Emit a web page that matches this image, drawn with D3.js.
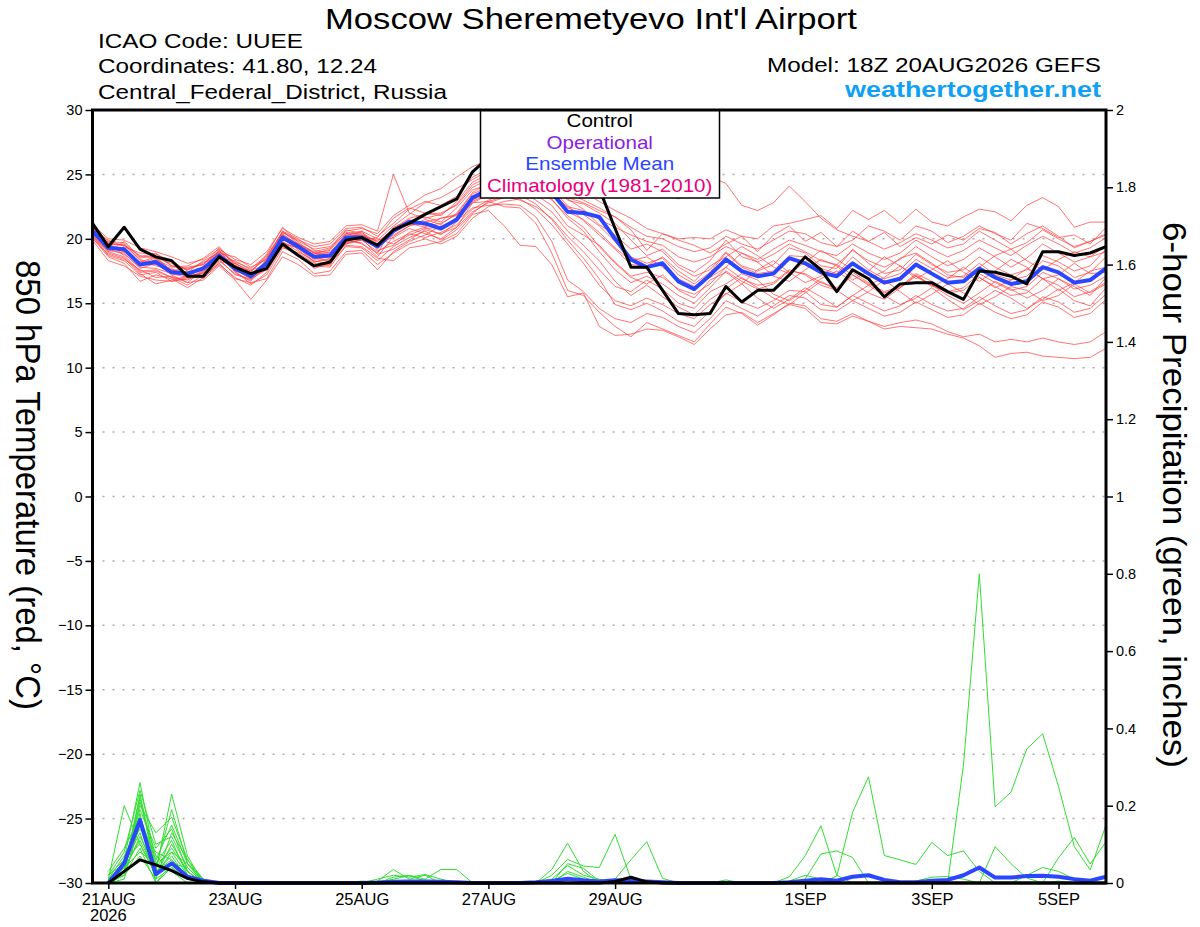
<!DOCTYPE html>
<html>
<head>
<meta charset="utf-8">
<script src="https://cdnjs.cloudflare.com/ajax/libs/d3/7.8.5/d3.min.js"></script>
<style>
body { margin: 0; background: #fff; }
text { font-family: "Liberation Sans", Arial, Helvetica, sans-serif; }
</style>
</head>
<body>
<div class="container"></div>
<script>
const WIDTH = 1200;
const HEIGHT = 927;
const PLOT = {left: 92.5, right: 1106, top: 110, bottom: 883};

// model run 18Z 20AUG2026, 6-hourly out to 384 h (65 steps)
const RUN_START = Date.UTC(2026, 7, 20, 18);
const STEP_MS = 6 * 3600 * 1000;

const xTickDates = ["2026-08-21", "2026-08-23", "2026-08-25", "2026-08-27", "2026-08-29", "2026-09-01", "2026-09-03", "2026-09-05"];
const xTickLabels = ["21AUG", "23AUG", "25AUG", "27AUG", "29AUG", "1SEP", "3SEP", "5SEP"];
const tempTicks = [-30, -25, -20, -15, -10, -5, 0, 5, 10, 15, 20, 25, 30];
const precipTicks = [0, 0.2, 0.4, 0.6, 0.8, 1, 1.2, 1.4, 1.6, 1.8, 2];
const precipTickLabels = ["0", "0.2", "0.4", "0.6", "0.8", "1", "1.2", "1.4", "1.6", "1.8", "2"];

const legendLabels = ["Control", "Operational", "Ensemble Mean", "Climatology (1981-2010)"];
const legendColors = ["#000000", "#8c1ee0", "#2a46ff", "#e8007c"];

// 850 hPa temperature (C), one value per 6 h step from 18Z 20AUG
const controlTemp = [21.2,19.4,20.9,19.2,18.6,18.3,17.1,17.1,18.6,17.8, 17.3,17.7,19.6,18.7,17.9,18.2,19.9,20.1,19.5,20.7, 21.2,21.9,22.5,23.1,25.2,26.3,27.0,27.5,27.6,27.2, 26.5,25.6,23.9,20.8,17.8,17.8,16.0,14.2,14.1,14.2, 16.3,15.1,16.0,16.0,17.2,18.6,17.6,15.9,17.6,16.9, 15.5,16.5,16.6,16.6,15.9,15.3,17.5,17.4,17.1,16.5, 19.0,19.0,18.7,18.9,19.4];
const meanTemp = [20.6,19.3,19.2,18.0,18.2,17.4,17.3,17.7,18.7,17.7, 17.1,18.1,20.1,19.4,18.6,18.7,20.1,20.1,19.4,20.6, 21.3,21.2,20.8,21.5,23.2,23.8,24.2,24.4,24.0,23.6, 22.1,22.0,21.7,20.0,18.4,17.8,18.1,16.7,16.1,17.2, 18.4,17.5,17.1,17.3,18.5,18.1,17.4,17.1,18.1,17.3, 16.6,16.9,18.0,17.3,16.6,16.7,17.7,17.0,16.5,16.7, 17.8,17.4,16.6,16.8,17.7];
const memberTemp = [
  [20.9,19.6,19.5,18.4,18.0,17.7,17.0,17.9,19.0,17.9,17.5,18.6,20.5,19.8,19.2,19.4,20.6,20.8,20.4, 21.8,22.6,23.4,23.9,24.8,25.6,26.1,26.8,27.2,27.0,26.4,25.8,25.1,24.6,24.0,23.6,23.2,23.5,23.1,23.6, 24.8,24.3,22.6,22.2,22.8,24.1,22.9,21.6,20.7,20.2,19.8,20.5,19.4,20.1,19.6,20.3,19.9,20.8,20.5,19.6,20.4,21.0,20.2,19.3,19.8,20.4],
  [20.3,19.0,19.8,18.6,18.9,17.9,17.6,18.2,18.5,18.3,17.6,17.9,20.6,20.0,19.1,18.9,20.4,20.2,19.9, 21.0,21.9,22.8,23.2,23.9,24.6,25.3,25.9,26.2,25.7,25.0,24.3,23.7,22.9,22.2,21.6,20.8,20.4,20.0,20.1, 20.0,20.7,20.2,20.0,21.0,21.2,21.5,21.8,20.8,22.2,21.5,22.2,21.2,22.3,21.3,21.0,21.7,22.3,22.1,21.4,22.6,23.2,22.5,20.9,21.3,21.3],
  [20.5,19.7,18.7,17.5,17.6,17.0,16.8,17.4,18.9,17.4,16.7,18.5,20.3,19.1,18.2,18.4,19.8,19.7,18.6, 20.2,21.0,21.5,21.1,22.0,23.6,24.3,24.9,25.2,24.8,24.1,23.2,22.8,22.2,21.7,20.7,19.1,20.4,19.9,19.5, 18.9,19.6,20.2,19.0,20.3,21.0,19.8,20.5,19.4,19.9,21.0,20.6,19.9,21.0,20.6,19.7,20.2,21.0,20.4,19.9,21.2,20.8,20.1,20.3,19.6,20.9],
  [21.0,19.4,19.0,18.2,18.6,17.5,17.8,18.0,19.3,17.9,17.3,18.0,19.6,19.3,18.8,19.2,20.7,20.4,19.6, 20.8,21.6,21.9,22.0,22.6,24.0,24.6,25.0,25.3,24.6,23.5,22.5,22.2,21.5,20.9,20.3,19.8,19.5,18.6,18.2, 18.6,19.4,18.9,18.4,19.2,19.9,19.5,19.0,18.7,19.6,18.9,18.4,18.9,19.9,19.2,18.6,19.1,19.9,19.3,18.7,19.5,20.2,19.6,18.9,19.3,20.1],
  [20.2,18.9,18.5,17.3,16.5,16.8,17.1,17.3,18.4,17.2,16.9,17.6,19.9,19.6,18.5,18.3,19.9,20.6,19.1, 19.5,20.5,20.9,21.6,21.9,23.0,23.6,24.1,24.5,24.2,23.8,22.6,21.4,20.3,19.2,18.0,17.9,18.6,17.5,16.7, 17.9,18.6,19.4,18.7,17.8,17.3,18.2,19.1,18.4,17.6,16.9,17.5,18.5,18.9,18.1,17.2,17.0,17.8,18.7,19.2,18.3,17.6,18.4,19.0,18.6,19.5],
  [20.7,19.9,19.4,18.9,18.8,18.3,17.5,16.9,18.2,18.1,17.4,18.8,20.9,19.7,18.9,18.6,19.6,19.9,20.1, 21.6,22.4,22.0,21.8,22.9,24.4,25.0,25.4,25.6,25.1,24.5,23.0,22.7,22.0,21.2,19.9,18.7,19.2,18.0,17.4, 18.3,19.9,18.6,18.2,18.8,19.6,19.0,18.3,18.0,19.1,18.3,17.8,18.4,19.4,18.6,17.9,18.4,19.3,18.6,17.8,18.5,19.6,18.9,18.2,18.6,19.0],
  [20.4,19.1,18.9,17.7,18.1,17.2,16.6,17.6,19.1,17.5,16.5,17.2,19.3,18.9,18.1,17.9,20.3,20.5,19.7, 20.1,20.8,20.4,20.0,20.9,22.8,23.4,24.0,24.3,23.9,23.0,21.8,20.9,19.4,18.1,17.0,16.5,17.2,16.0,15.4, 16.8,17.4,16.5,17.6,18.3,17.4,16.6,17.1,18.0,17.2,16.4,17.0,17.9,17.1,16.3,16.9,17.8,17.0,16.2,16.8,17.7,16.9,16.0,16.6,17.5,17.8],
  [20.8,19.5,19.6,18.3,17.9,17.6,17.4,18.3,18.9,18.6,17.8,18.4,20.2,19.5,18.7,19.0,20.0,19.6,18.9, 20.9,21.4,21.7,21.3,22.4,23.8,24.2,24.7,24.9,24.4,23.7,22.4,21.9,21.0,19.8,18.6,18.1,18.5,17.2,16.5, 17.4,18.9,17.8,17.3,17.5,18.7,18.6,17.7,17.3,18.6,17.6,16.9,17.3,18.4,17.7,17.0,17.1,18.1,17.2,16.8,17.1,18.3,17.9,17.0,17.4,18.6],
  [20.1,18.6,18.1,16.7,17.2,16.9,16.2,17.0,18.0,17.0,16.4,17.4,19.5,18.8,17.7,18.1,19.4,19.3,18.3, 19.4,20.1,20.6,19.9,20.7,22.0,22.9,23.3,23.0,22.5,21.6,20.2,19.0,17.6,16.3,15.9,16.8,16.1,15.0,14.6, 15.9,16.5,17.3,16.8,15.7,15.2,16.0,16.9,17.5,16.6,15.8,15.3,16.2,17.1,16.4,15.6,15.0,15.8,16.7,16.1,15.4,16.0,16.9,16.3,15.6,17.0],
  [20.6,19.2,19.3,17.9,18.4,17.8,17.9,18.5,19.4,18.0,17.2,18.3,20.4,19.5,18.9,18.8,20.2,20.3,19.5, 20.5,21.2,20.9,20.3,21.3,22.9,23.5,23.8,24.0,23.4,22.6,21.0,20.3,19.5,18.2,17.1,17.4,17.0,16.1,15.7, 16.5,17.8,16.9,16.4,16.6,17.6,17.2,16.4,16.0,17.2,16.5,15.8,16.2,17.2,16.4,15.8,16.0,17.0,16.3,15.6,15.8,16.9,16.4,15.5,15.9,16.6],
  [21.1,20.0,19.9,19.3,19.0,18.6,18.1,18.4,19.2,18.4,18.0,19.0,20.8,20.1,19.6,19.8,21.0,21.1,20.6, 25.0,22.0,21.6,21.9,22.7,24.2,24.8,25.2,25.5,25.0,24.2,23.1,22.3,21.1,20.3,19.2,19.6,19.0,17.8,17.1, 17.6,19.0,17.9,17.5,18.0,19.3,18.9,17.9,17.7,19.2,18.1,17.3,17.6,18.8,18.0,17.4,17.6,18.6,17.8,17.2,17.6,18.7,18.2,17.5,17.9,19.2],
  [19.9,18.3,17.9,17.1,16.8,16.7,16.9,17.1,18.1,16.9,16.6,16.9,19.0,18.4,17.3,17.5,19.0,19.1,18.0, 18.9,19.6,20.0,19.6,20.2,21.6,22.5,22.9,23.1,22.3,21.1,19.6,18.1,16.4,15.2,14.8,15.4,14.9,14.2,13.8, 14.9,15.7,16.5,15.4,14.6,15.3,16.2,15.5,14.7,15.6,16.4,15.6,14.9,15.4,16.2,15.3,14.5,15.2,16.0,15.4,14.6,15.3,16.1,15.2,14.8,16.2],
  [20.5,19.3,19.0,18.1,18.3,17.3,17.2,17.8,18.6,17.6,16.9,18.2,20.0,19.2,18.4,18.6,20.1,20.0,19.3, 20.3,21.0,21.3,21.6,21.8,23.3,23.9,24.3,24.6,24.1,23.4,22.1,21.5,20.5,19.3,18.3,18.6,17.8,16.9,16.3, 17.0,17.8,18.9,18.2,17.1,16.7,17.6,18.4,17.9,16.8,17.5,18.6,17.9,16.9,17.6,18.3,17.4,16.7,17.5,18.4,17.8,16.9,17.2,18.1,17.3,17.4],
  [20.0,18.8,18.4,17.6,17.0,17.1,16.6,16.8,17.9,16.8,15.3,16.8,18.6,18.0,17.1,17.2,18.8,18.9,17.6, 19.0,19.8,20.3,21.0,21.4,22.4,22.6,22.7,22.6,21.7,19.8,16.8,15.9,14.6,13.8,13.5,14.2,13.9,13.2,12.7, 13.8,15.2,14.6,14.0,14.8,15.6,15.4,14.5,14.4,15.2,14.6,14.0,14.3,15.1,14.5,13.9,14.1,15.0,14.3,13.8,14.1,15.1,14.7,13.9,14.2,15.3],
  [20.8,19.7,19.5,18.7,18.5,18.1,17.6,18.1,19.0,18.2,17.7,18.7,20.5,19.9,19.4,19.6,20.8,20.9,20.2, 21.2,22.3,22.9,22.6,23.3,24.8,25.4,25.9,26.0,25.5,24.8,23.6,23.0,22.4,21.7,20.9,20.2,20.0,19.4,19.0, 19.3,20.2,19.6,19.2,19.9,20.6,20.4,19.7,19.4,20.6,19.8,19.2,19.7,20.4,19.9,19.3,19.6,20.6,19.9,19.2,19.7,20.7,20.0,19.4,19.8,20.3],
  [20.4,19.2,18.8,17.8,17.7,17.3,17.0,17.5,18.7,17.8,17.0,18.0,19.8,19.0,18.3,18.0,19.7,19.9,19.0, 19.8,20.4,20.1,20.5,21.1,22.3,23.0,23.5,23.6,23.0,22.1,20.6,19.5,18.3,16.7,15.6,16.4,15.5,14.7,14.1, 15.3,16.1,17.0,16.2,15.4,14.9,15.8,16.7,16.0,15.2,15.9,16.8,15.9,15.0,15.7,16.5,15.8,14.9,15.5,16.3,16.0,15.2,15.6,16.5,15.8,16.5],
  [20.6,19.5,19.1,18.1,18.5,17.5,17.3,17.7,18.6,17.5,17.2,18.3,20.3,19.6,18.9,19.1,20.5,20.3,19.8, 20.7,21.5,21.0,21.2,21.9,23.5,24.0,24.5,24.7,24.0,23.1,21.6,20.6,19.0,17.6,16.6,17.1,16.5,15.6,15.0, 16.2,17.5,16.7,16.1,16.5,17.5,17.3,16.6,16.2,17.4,16.6,15.9,16.3,17.3,16.7,15.9,16.2,17.3,16.6,16.0,16.3,17.4,16.9,16.1,16.4,17.1],
  [20.3,19.0,18.6,17.4,17.5,17.0,16.4,17.2,18.3,17.3,16.8,17.8,19.7,19.3,18.2,18.5,19.6,20.0,18.8, 19.2,19.9,20.7,20.4,20.9,22.1,22.8,23.2,23.4,22.7,21.5,19.9,18.5,16.9,14.9,14.5,15.0,14.4,13.6,13.2, 14.4,15.8,15.1,14.6,15.2,16.0,15.9,14.9,14.7,15.6,15.0,14.4,14.8,15.6,14.9,14.4,14.6,15.5,14.8,14.2,14.5,15.5,15.1,14.3,14.6,15.7],
  [20.9,19.8,19.7,18.5,18.7,17.9,17.7,18.0,19.1,18.1,17.5,18.5,20.6,19.6,19.0,19.3,20.4,20.6,20.0, 19.6,20.3,20.8,20.9,21.6,22.8,22.9,22.5,22.4,21.2,18.9,16.0,15.6,14.3,13.2,12.4,13.5,13.0,12.5,12.0, 13.4,14.7,14.2,13.3,14.1,15.0,14.8,13.8,13.6,14.2,13.6,13.2,13.5,13.7,13.4,12.8,12.4,12.6,12.0,12.2,12.0,12.3,12.0,11.8,12.0,12.8],
  [20.2,18.7,18.3,17.2,17.4,16.7,17.0,17.4,18.5,17.6,17.0,17.7,19.4,18.7,17.9,17.8,19.5,19.4,18.5, 18.3,19.3,19.5,19.8,20.4,21.9,22.2,21.0,19.5,19.4,18.0,15.5,15.8,13.2,12.5,12.6,13.0,12.9,12.4,11.8, 13.0,14.1,14.3,13.5,14.2,14.9,14.6,13.5,13.4,14.0,13.6,13.0,13.2,13.1,13.0,12.6,12.3,11.7,10.8,11.1,11.2,10.9,10.8,10.7,10.8,11.5]
];

// 6-hour precipitation (inches), one value per step from 00Z 21AUG
const controlPrecip = [0,0.03,0.06,0.047,0.032,0.012,0.003,0, 0,0,0,0,0,0,0,0, 0,0,0,0,0,0,0,0, 0,0,0,0,0,0,0,0, 0.004,0.015,0.003,0,0,0,0,0, 0,0,0,0,0,0,0,0, 0,0,0,0,0,0,0,0, 0,0,0,0,0,0,0,0];
const meanPrecip = [0,0.051,0.163,0.023,0.051,0.016,0.006,0, 0,0,0,0,0,0,0,0, 0,0.001,0.003,0.004,0.004,0.003,0.002,0, 0,0,0,0.002,0.005,0.011,0.007,0.004, 0.007,0.006,0.004,0.002,0,0,0,0, 0,0,0,0.002,0.006,0.01,0.006,0.016, 0.02,0.008,0.002,0.002,0.006,0.008,0.02,0.04, 0.014,0.014,0.018,0.019,0.016,0.01,0.006,0.016];
const memberPrecip = [
  [0.01,0.20,0.10,0.02,0.05,0.01,0,0, 0,0,0,0,0,0,0,0, 0,0,0,0,0,0,0,0, 0,0,0,0,0,0,0,0, 0,0,0,0,0,0,0,0, 0,0,0,0,0,0,0,0, 0,0,0,0,0,0,0.305,0.8, 0.197,0.235,0.347,0.386,0.25,0.094,0.034,0.15],
  [0,0.06,0.26,0.05,0.08,0.02,0,0, 0,0,0,0,0,0,0,0, 0,0,0,0,0,0,0,0, 0,0,0,0,0.035,0.103,0.03,0, 0,0,0,0,0,0,0,0, 0,0,0,0,0,0,0,0, 0,0,0,0,0,0,0,0, 0,0,0,0,0,0,0,0],
  [0.02,0.08,0.24,0.10,0.12,0.04,0,0, 0,0,0,0,0,0,0,0, 0,0.005,0.035,0.01,0.02,0,0,0, 0,0,0,0,0,0,0,0, 0,0,0,0,0,0,0,0, 0,0,0,0,0,0,0,0, 0,0,0,0,0,0,0,0, 0,0,0,0,0,0,0,0],
  [0,0.04,0.22,0.03,0.23,0.07,0,0, 0,0,0,0,0,0,0,0, 0,0,0,0,0,0,0,0, 0,0,0,0,0,0,0,0, 0,0,0,0,0,0,0,0, 0,0,0,0.016,0.07,0.148,0.02,0, 0,0,0,0,0,0,0,0, 0,0,0,0,0,0,0,0],
  [0.01,0.05,0.20,0.13,0.17,0.06,0.01,0, 0,0,0,0,0,0,0,0, 0,0,0,0,0,0,0,0, 0,0,0,0,0.02,0.061,0.044,0.04, 0.126,0.01,0,0,0,0,0,0, 0,0,0,0,0,0,0,0, 0,0,0,0,0,0,0,0, 0,0,0,0,0,0,0,0],
  [0,0.03,0.18,0,0.04,0.01,0,0, 0,0,0,0,0,0,0,0, 0,0,0,0,0,0,0,0, 0,0,0,0,0,0,0,0, 0,0,0,0,0,0,0,0, 0,0,0,0,0.01,0.075,0.083,0.066, 0,0,0,0,0,0,0,0, 0,0,0,0,0,0,0,0],
  [0.03,0.09,0.17,0.06,0.15,0.05,0,0, 0,0,0,0,0,0,0,0, 0,0,0.015,0.02,0.01,0.035,0.035,0, 0,0,0,0,0,0,0,0, 0,0,0,0,0,0,0,0, 0,0,0,0,0,0,0,0, 0,0,0,0,0,0,0,0, 0,0,0,0,0,0,0,0],
  [0,0.02,0.15,0.02,0.10,0.03,0,0, 0,0,0,0,0,0,0,0, 0,0,0,0,0,0,0,0, 0,0,0,0,0,0,0,0, 0,0,0,0,0,0,0,0, 0,0,0,0,0,0,0.018,0.183, 0.275,0.071,0.06,0.048,0.105,0.071,0.083,0.03, 0,0,0,0,0,0,0,0],
  [0.01,0.07,0.14,0.08,0.06,0.02,0,0, 0,0,0,0,0,0,0,0, 0,0,0,0,0,0,0,0, 0,0,0,0,0.01,0.045,0.02,0.01, 0,0,0,0,0,0,0,0, 0,0,0,0,0,0,0,0, 0,0,0,0,0,0,0,0, 0,0,0,0,0,0,0,0],
  [0,0.05,0.13,0.01,0.13,0.06,0,0, 0,0,0,0,0,0,0,0, 0,0,0,0,0,0,0,0, 0,0,0,0,0,0,0,0, 0,0,0,0,0,0,0,0.008, 0,0,0,0,0,0,0,0, 0,0,0,0,0,0,0,0, 0.094,0.05,0.013,0,0.005,0,0,0],
  [0,0.03,0.12,0.04,0.09,0.03,0,0, 0,0,0,0,0,0,0,0, 0,0.01,0.02,0.015,0.022,0.01,0,0, 0,0,0,0,0,0,0,0, 0,0,0,0,0,0,0,0, 0,0,0,0,0,0,0,0, 0,0,0,0,0,0,0,0, 0,0,0,0,0,0,0,0],
  [0.02,0.06,0.10,0.03,0.07,0.01,0,0, 0,0,0,0,0,0,0,0, 0,0,0,0,0,0,0,0, 0,0,0,0,0,0.03,0.015,0, 0.01,0.06,0.107,0.012,0,0,0,0, 0,0,0,0,0,0,0,0, 0,0,0,0,0,0,0,0, 0,0,0,0,0,0,0,0],
  [0,0.02,0.09,0,0.05,0.04,0,0, 0,0,0,0,0,0,0,0, 0,0,0,0,0,0,0,0, 0,0,0,0,0,0,0,0, 0,0,0,0,0,0,0,0, 0,0,0,0,0,0,0,0, 0,0,0,0,0,0,0,0, 0,0,0,0,0.065,0.118,0.049,0.107],
  [0.01,0.04,0.08,0.05,0.11,0.02,0,0, 0,0,0,0,0,0,0,0, 0.005,0,0.01,0.019,0.005,0,0,0, 0,0,0,0,0,0,0,0, 0,0,0,0,0,0,0,0, 0,0,0,0,0,0,0,0, 0,0,0,0,0,0,0,0, 0,0,0,0,0,0,0,0],
  [0,0.03,0.21,0.07,0.03,0,0,0, 0,0,0,0,0,0,0,0, 0,0,0,0,0,0,0,0, 0,0,0,0,0,0,0,0, 0,0,0,0,0,0,0,0, 0,0,0,0,0,0,0,0, 0,0,0,0.005,0.015,0.017,0.01,0, 0,0,0,0,0,0,0,0],
  [0,0.01,0.16,0.02,0.08,0.05,0.01,0, 0,0,0,0,0,0,0,0, 0,0,0,0,0,0,0,0, 0,0,0,0,0,0.05,0.038,0.005, 0,0,0,0,0,0,0,0, 0,0,0,0,0,0,0,0, 0,0,0,0,0,0,0,0, 0,0,0,0,0,0,0,0],
  [0.02,0.05,0.19,0.09,0.14,0.03,0,0, 0,0,0,0,0,0,0,0, 0,0,0,0,0,0,0,0, 0,0,0,0,0,0,0,0, 0,0,0,0,0,0,0,0, 0,0,0,0,0,0,0,0, 0,0,0,0,0,0,0,0, 0,0,0.02,0.04,0.03,0.01,0,0],
  [0,0.04,0.11,0.03,0.06,0.02,0,0, 0,0,0,0,0,0,0,0, 0,0,0,0,0,0,0,0, 0,0,0,0,0.005,0.025,0.01,0, 0,0,0,0,0,0,0,0, 0,0,0,0,0,0,0,0, 0,0,0,0,0,0,0,0, 0,0,0,0,0,0,0,0],
  [0.01,0.02,0.07,0.01,0.04,0.01,0,0, 0,0,0,0,0,0,0,0, 0,0,0,0,0,0,0,0, 0,0,0,0,0,0,0,0, 0,0,0,0,0,0,0,0, 0,0,0,0.005,0.02,0.01,0,0, 0,0,0,0,0,0,0,0, 0,0,0,0,0,0,0,0],
  [0,0.03,0.23,0.04,0.19,0.05,0,0, 0,0,0,0,0,0,0,0, 0,0,0,0,0,0,0,0, 0,0,0,0,0,0,0,0, 0,0,0,0,0,0,0,0, 0,0,0,0,0,0,0,0, 0,0,0,0,0,0,0,0, 0,0,0,0,0,0,0,0]
];

var timeAt = function(i){ return new Date(RUN_START + i * STEP_MS); };

var svg = d3.select('.container')
    .append('svg')
    .attr("width", WIDTH)
    .attr("height", HEIGHT);

var x = d3.scaleUtc()
    .domain([timeAt(0), timeAt(64)])
    .range([PLOT.left, PLOT.right]);
var yT = d3.scaleLinear().domain([-30, 30]).range([PLOT.bottom, PLOT.top]);
var yP = d3.scaleLinear().domain([0, 2]).range([PLOT.bottom, PLOT.top]);

var tempLine = d3.line()
    .x(function(d, i){ return x(timeAt(i)); })
    .y(function(d){ return yT(d); });
// precipitation starts one step later (first 6 h accumulation)
var precipLine = d3.line()
    .x(function(d, i){ return x(timeAt(i + 1)); })
    .y(function(d){ return yP(d); });

// dotted grid at the temperature ticks
svg.append("g")
    .selectAll("line")
    .data(tempTicks.filter(function(v){ return v > -30 && v < 30; }))
    .enter().append("line")
    .attr("x1", PLOT.left).attr("x2", PLOT.right)
    .attr("y1", function(d){ return yT(d); })
    .attr("y2", function(d){ return yT(d); })
    .attr("stroke", "#aaa")
    .attr("stroke-width", 1.5)
    .attr("stroke-dasharray", "2,8");

// ensemble members
svg.append("g")
    .selectAll("path")
    .data(memberPrecip)
    .enter().append("path")
    .attr("d", precipLine)
    .attr("fill", "none")
    .attr("stroke", "#33dd33")
    .attr("stroke-width", 1);

svg.append("g")
    .selectAll("path")
    .data(memberTemp)
    .enter().append("path")
    .attr("d", tempLine)
    .attr("fill", "none")
    .attr("stroke", "#ff3a3a")
    .attr("stroke-opacity", 0.7)
    .attr("stroke-width", 1);

// mean and control
svg.append("path").datum(meanPrecip).attr("d", precipLine)
    .attr("fill", "none").attr("stroke", "#2a46ff").attr("stroke-width", 4)
    .attr("stroke-linejoin", "round");
svg.append("path").datum(controlPrecip).attr("d", precipLine)
    .attr("fill", "none").attr("stroke", "#000").attr("stroke-width", 3)
    .attr("stroke-linejoin", "round");
svg.append("path").datum(meanTemp).attr("d", tempLine)
    .attr("fill", "none").attr("stroke", "#2a46ff").attr("stroke-width", 4)
    .attr("stroke-linejoin", "round");
svg.append("path").datum(controlTemp).attr("d", tempLine)
    .attr("fill", "none").attr("stroke", "#000").attr("stroke-width", 3)
    .attr("stroke-linejoin", "round");

// legend box sits on the top frame line
var legend = svg.append("g");
legend.append("rect")
    .attr("x", 480.5).attr("y", PLOT.top)
    .attr("width", 239).attr("height", 88)
    .attr("fill", "#fff").attr("stroke", "#000").attr("stroke-width", 1.5);
legend.selectAll("text")
    .data(legendLabels)
    .enter().append("text")
    .attr("transform", function(d, i){ return "translate(599.7," + (127.3 + i * 21.45) + ") scale(1.145,1)"; })
    .attr("text-anchor", "middle")
    .attr("font-size", 18)
    .attr("fill", function(d, i){ return legendColors[i]; })
    .text(function(d){ return d; });

// axes (font size has to be set after .call, the axis writes its own)
var gLeft = svg.append("g")
    .attr("transform", "translate(" + PLOT.left + ",0)")
    .call(d3.axisLeft(yT).tickValues(tempTicks).tickSize(7).tickPadding(3));
gLeft.attr("font-size", 14.5);
gLeft.select(".domain").remove();
gLeft.selectAll("line").attr("stroke-width", 1.5);

var gRight = svg.append("g")
    .attr("transform", "translate(" + PLOT.right + ",0)")
    .call(d3.axisRight(yP).tickValues(precipTicks).tickSize(7).tickPadding(3)
        .tickFormat(function(d, i){ return precipTickLabels[i]; }));
gRight.attr("font-size", 14.5);
gRight.select(".domain").remove();
gRight.selectAll("line").attr("stroke-width", 1.5);

var tickDates = xTickDates.map(function(s){ return new Date(s + "T00:00:00Z"); });
var gBottom = svg.append("g")
    .attr("transform", "translate(0," + PLOT.bottom + ")")
    .call(d3.axisBottom(x).tickValues(tickDates).tickSize(6).tickPadding(4)
        .tickFormat(function(d, i){ return xTickLabels[i]; }));
gBottom.attr("font-size", 16.5);
gBottom.select(".domain").remove();
gBottom.selectAll("line").attr("stroke-width", 1.5);
svg.append("text")
    .attr("x", x(tickDates[0])).attr("y", 921)
    .attr("text-anchor", "middle").attr("font-size", 16.5)
    .text("2026");

// frame
svg.append("rect")
    .attr("x", PLOT.left).attr("y", PLOT.top)
    .attr("width", PLOT.right - PLOT.left).attr("height", PLOT.bottom - PLOT.top)
    .attr("fill", "none").attr("stroke", "#000").attr("stroke-width", 3);

// header texts (stretched to the widths of the original lettering)
var addText = function(str, xPos, yPos, size, len, color, weight){
    return svg.append("text")
        .attr("x", xPos).attr("y", yPos)
        .attr("font-size", size)
        .attr("textLength", len).attr("lengthAdjust", "spacingAndGlyphs")
        .attr("fill", color || "#000")
        .attr("font-weight", weight || "normal")
        .text(str);
};
addText("Moscow Sheremetyevo Int'l Airport", 325, 29, 29, 532);
addText("ICAO Code: UUEE", 98, 47.5, 19.5, 205);
addText("Coordinates: 41.80, 12.24", 98, 73, 19.5, 279);
addText("Central_Federal_District, Russia", 98, 98.5, 19.5, 349);
addText("Model: 18Z 20AUG2026 GEFS", 767, 72, 19.5, 334);
addText("weathertogether.net", 845, 97, 22, 256, "#10a0f4", "bold");

// axis titles, both read top to bottom
svg.append("text")
    .attr("transform", "translate(15.5,485) rotate(90)")
    .attr("x", -225).attr("y", 0)
    .attr("font-size", 35)
    .attr("textLength", 450).attr("lengthAdjust", "spacingAndGlyphs")
    .text("850 hPa Temperature (red, \u00B0C)");
svg.append("text")
    .attr("transform", "translate(1163,495) rotate(90)")
    .attr("x", -273).attr("y", 0)
    .attr("font-size", 34)
    .attr("textLength", 546).attr("lengthAdjust", "spacingAndGlyphs")
    .text("6-hour Precipitation (green, inches)");
</script>
</body>
</html>
